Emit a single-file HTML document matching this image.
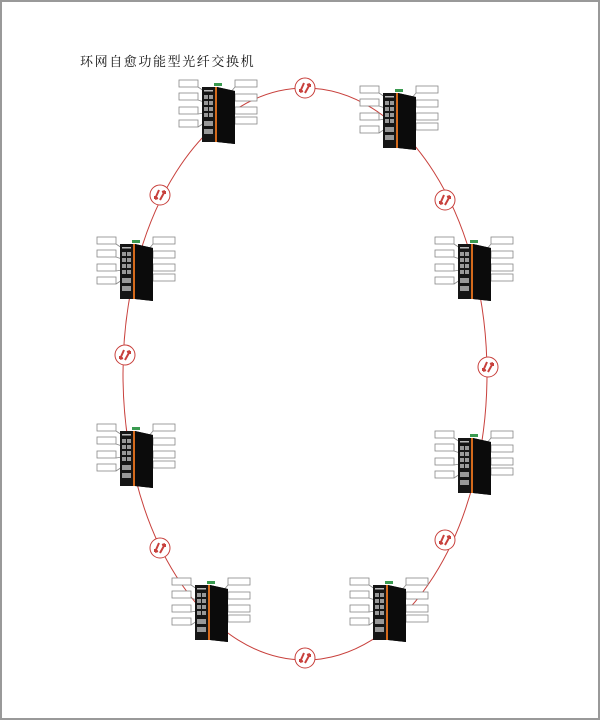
<!DOCTYPE html>
<html><head><meta charset="utf-8"><style>
html,body{margin:0;padding:0;background:#fff}
.wrap{position:relative;width:600px;height:720px;overflow:hidden}
.t{position:absolute;left:80px;top:51px;font:13px "Liberation Serif","Noto Serif CJK SC",serif;letter-spacing:1.6px;color:#111}
</style></head><body><div class="wrap">
<svg width="600" height="720" style="position:absolute;left:0;top:0">
<defs>
<g id="sw">
 <g fill="#fff" stroke="#888" stroke-width="0.8">
  <rect x="-23" y="-7" width="19" height="7"/><rect x="-23" y="6" width="19" height="7"/>
  <rect x="-23" y="20" width="19" height="7"/><rect x="-23" y="33" width="19" height="7"/>
  <rect x="33" y="-7" width="22" height="7"/><rect x="33" y="7" width="22" height="7"/>
  <rect x="33" y="20" width="22" height="7"/><rect x="33" y="30" width="22" height="7"/>
  <path d="M-4 0 L2 4 M-4 13 L2 15 M-4 27 L2 26 M-4 40 L2 36 M33 0 L28 6 M33 14 L28 16 M33 27 L28 28 M33 37 L28 38" fill="none"/>
 </g>
 <rect x="12" y="-4" width="8" height="3" fill="#3a9a50"/>
 <polygon points="0,0 15,0 33,4 33,57 15,55 0,55" fill="#151515"/>
 <polygon points="15,0 33,4 33,57 15,55" fill="#0b0b0b"/>
 <rect x="13" y="0" width="2" height="55" fill="#d46a1c"/>
 <rect x="2" y="3" width="9" height="1.5" fill="#bbb"/>
 <g fill="#999">
  <rect x="2" y="8" width="4" height="4"/><rect x="7" y="8" width="4" height="4"/>
  <rect x="2" y="14" width="4" height="4"/><rect x="7" y="14" width="4" height="4"/>
  <rect x="2" y="20" width="4" height="4"/><rect x="7" y="20" width="4" height="4"/>
  <rect x="2" y="26" width="4" height="4"/><rect x="7" y="26" width="4" height="4"/>
  <rect x="2" y="34" width="9" height="5"/><rect x="2" y="42" width="9" height="5"/>
 </g>
</g>
<g id="sym">
 <circle r="10" fill="#fff" stroke="#c8403c" stroke-width="1"/>
 <path d="M-5 4 L-1 -5 M0 5 L5 -4 M-5 4 l0 -3 M-5 4 l3 -1 M5 -4 l0 3 M5 -4 l-3 1" stroke="#c8403c" stroke-width="2" fill="none"/>
</g>
</defs>
<rect x="1" y="1" width="598" height="718" fill="none" stroke="#999" stroke-width="2"/>
<ellipse cx="305" cy="374" rx="182" ry="286" fill="none" stroke="#c8403c" stroke-width="1"/>
<use href="#sym" x="305" y="88"/><use href="#sym" x="160" y="195"/><use href="#sym" x="445" y="200"/>
<use href="#sym" x="125" y="355"/><use href="#sym" x="488" y="367"/><use href="#sym" x="160" y="548"/>
<use href="#sym" x="445" y="540"/><use href="#sym" x="305" y="658"/>
<use href="#sw" x="202" y="87"/><use href="#sw" x="383" y="93"/>
<use href="#sw" x="120" y="244"/><use href="#sw" x="458" y="244"/>
<use href="#sw" x="120" y="431"/><use href="#sw" x="458" y="438"/>
<use href="#sw" x="195" y="585"/><use href="#sw" x="373" y="585"/>
</svg>
<div class="t">环网自愈功能型光纤交换机</div>
</div></body></html>
